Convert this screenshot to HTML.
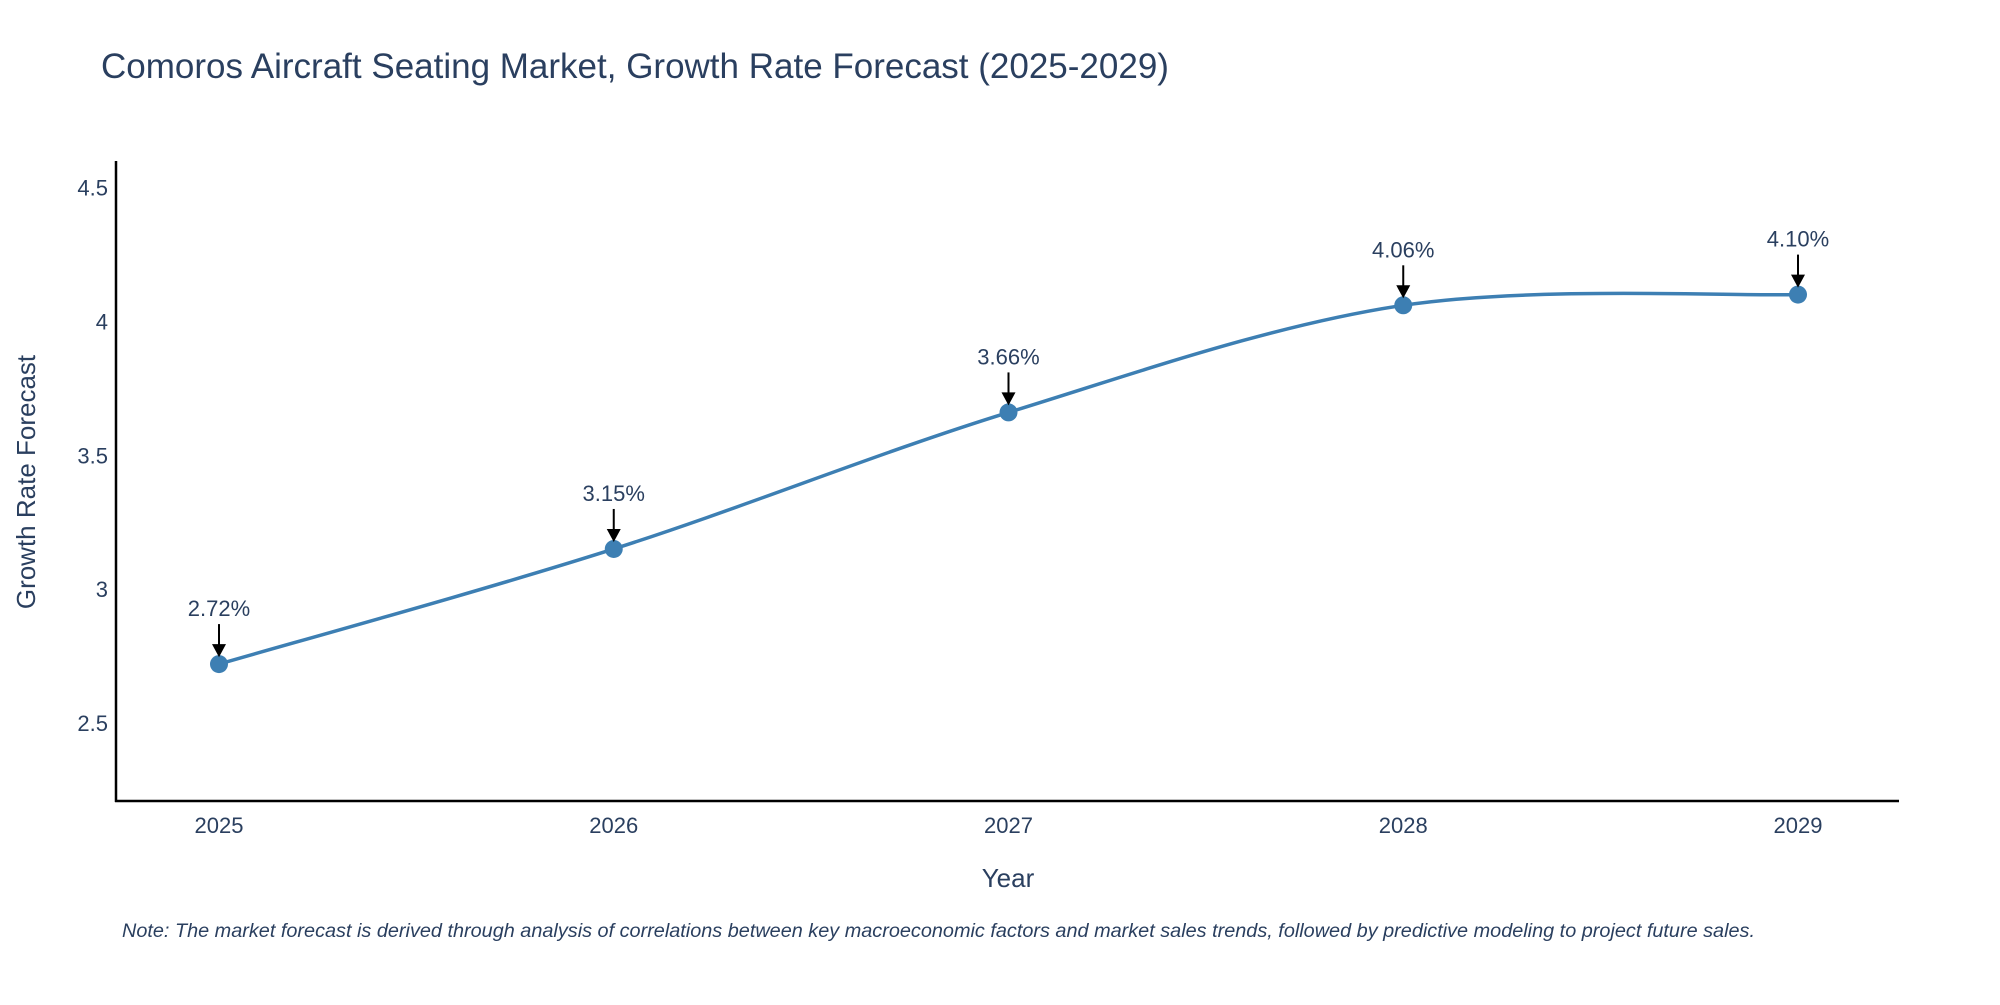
<!DOCTYPE html>
<html><head><meta charset="utf-8"><style>
body{margin:0;background:#fff;width:2000px;height:1000px;overflow:hidden;font-family:"Liberation Sans",sans-serif}
</style></head><body>
<svg width="2000" height="1000" xmlns="http://www.w3.org/2000/svg">
<text x="101" y="78" font-size="35" fill="#2a3f5f">Comoros Aircraft Seating Market, Growth Rate Forecast (2025-2029)</text>
<g id="yt"></g><g id="xt"></g>
<line x1="116" y1="161" x2="116" y2="802" stroke="#000" stroke-width="2.5"/>
<line x1="115" y1="801" x2="1899" y2="801" stroke="#000" stroke-width="2.5"/>
<path id="line" fill="none" stroke="#3d7fb3" stroke-width="3.5"/>
<g id="pts"></g><g id="ann"></g>
<text transform="translate(35,482) rotate(-90)" text-anchor="middle" font-size="26" fill="#2a3f5f">Growth Rate Forecast</text>
<text x="1008" y="887" text-anchor="middle" font-size="26" fill="#2a3f5f">Year</text>
<text x="122" y="937" font-size="19" font-style="italic" fill="#2a3f5f" textLength="1633" lengthAdjust="spacingAndGlyphs">Note: The market forecast is derived through analysis of correlations between key macroeconomic factors and market sales trends, followed by predictive modeling to project future sales.</text>
</svg>
<script>
const years=[2025,2026,2027,2028,2029];
const values=[2.72,3.15,3.66,4.06,4.10];
const labels=["2.72%","3.15%","3.66%","4.06%","4.10%"];
const yTicks=[2.5,3,3.5,4,4.5];
const NS="http://www.w3.org/2000/svg";
function X(v){return 219+(v-2025)*(1798-219)/4;}
function Y(v){return 723-(v-2.5)*(723-187.5)/2;}
function mk(t,a,p){const e=document.createElementNS(NS,t);for(const k in a)e.setAttribute(k,a[k]);document.getElementById(p).appendChild(e);return e;}
yTicks.forEach(t=>{const e=mk('text',{x:108,y:Y(t)+8,'text-anchor':'end','font-size':22,fill:'#2a3f5f'},'yt');e.textContent=String(t);

});
years.forEach(t=>{const e=mk('text',{x:X(t),y:833,'text-anchor':'middle','font-size':22,fill:'#2a3f5f'},'xt');e.textContent=String(t);

});
const P=years.map((y,i)=>[X(y),Y(values[i])]);
let d='M'+P[0][0]+','+P[0][1];const s=0.33;
for(let i=0;i<P.length-1;i++){const p0=P[Math.max(0,i-1)],p1=P[i],p2=P[i+1],p3=P[Math.min(P.length-1,i+2)];
const c1=[p1[0]+(p2[0]-p0[0])*s/2,p1[1]+(p2[1]-p0[1])*s/2];const c2=[p2[0]-(p3[0]-p1[0])*s/2,p2[1]-(p3[1]-p1[1])*s/2];
d+=` C${c1[0]},${c1[1]} ${c2[0]},${c2[1]} ${p2[0]},${p2[1]}`;}
document.getElementById('line').setAttribute('d',d);
P.forEach((p,i)=>{const c=mk('circle',{cx:p[0],cy:p[1],r:9,fill:'#3d7fb3'},'pts');


const l=mk('line',{x1:p[0],y1:p[1]-40,x2:p[0],y2:p[1]-16,stroke:'#000','stroke-width':2},'ann');


const h=mk('polygon',{points:`${p[0]-7},${p[1]-20} ${p[0]+7},${p[1]-20} ${p[0]},${p[1]-7}`,fill:'#000'},'ann');


const t=mk('text',{x:p[0],y:p[1]-48,'text-anchor':'middle','font-size':22,fill:'#2a3f5f'},'ann');t.textContent=labels[i];

});
</script>
</body></html>
